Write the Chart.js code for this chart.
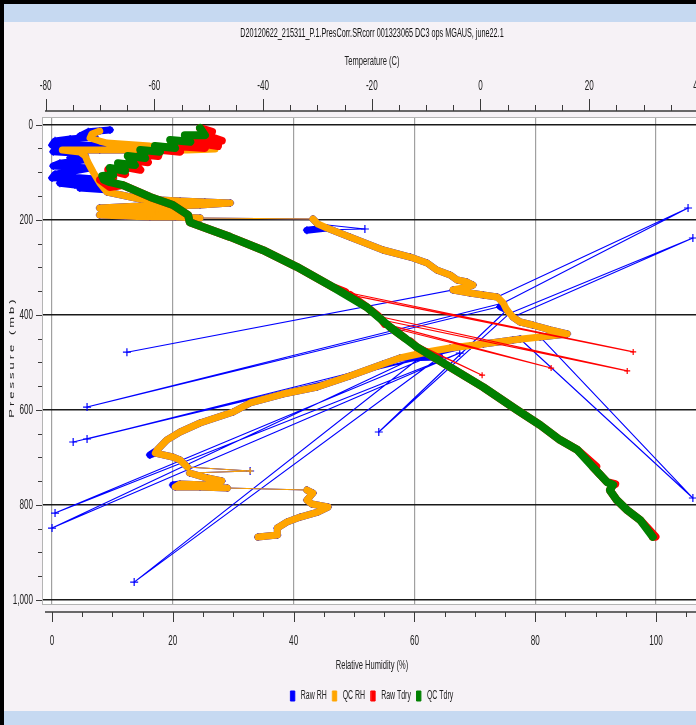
<!DOCTYPE html>
<html>
<head>
<meta charset="utf-8">
<title>Sounding profile</title>
<script src="https://cdn.jsdelivr.net/npm/chart.js@4.4.1/dist/chart.umd.min.js"></script>
<style>
  html, body { margin: 0; padding: 0; }
  body { width: 696px; height: 725px; overflow: hidden; position: relative; background: #f6f2f6; }
  #frameLeft { position: absolute; left: 0; top: 0; width: 4px; height: 725px; background: #000; z-index: 3; }
  #frameTop { position: absolute; left: 0; top: 0; width: 696px; height: 4px; background: #000; z-index: 3; }
  #bandTop { position: absolute; left: 0; top: 4px; width: 696px; height: 18px; background: #c6d9f1; z-index: 2; }
  #bandBottom { position: absolute; left: 0; top: 711px; width: 696px; height: 14px; background: #c6d9f1; z-index: 2; }
  #chart { position: absolute; left: 0; top: 22px; }
</style>
</head>
<body>
<div id="frameLeft"></div>
<div id="frameTop"></div>
<div id="bandTop"></div>
<div id="bandBottom"></div>
<canvas id="chart" width="744" height="690"></canvas>
<script>
// axis ticks
const rhTicks = [0, 20, 40, 60, 80, 100];
const tempTicks = [-80, -60, -40, -20, 0, 20, 40];
const pressureTicks = [0, 200, 400, 600, 800, 1000];

const seriesNames = ['Raw RH', 'QC RH', 'Raw Tdry', 'QC Tdry'];
const seriesColors = ['#0000ff', '#ffa500', '#ff0000', '#008000'];
const yTitle = 'Pressure (mb)';

// [relative humidity %, pressure mb]
const rawRh = [
  [7.9,13],[9.6,11],[6.0,15],[4.6,24],[7.1,26],[3.0,30],[0.5,34],[0.0,43],[3.8,41],[7.9,45],
  [12.1,46],[16.2,47],[20.6,47],[25.0,47],[20.6,51],[16.2,51],[12.1,53],[7.9,53],[1.3,53],[0.2,57],
  [4.3,60],[5.5,66],[3.0,70],[5.5,74],[1.3,81],[0.2,87],[3.0,89],[6.3,91],[3.8,97],[0.5,104],
  [0.0,112],[3.0,110],[7.1,114],[4.6,121],[1.3,123],[3.8,127],[7.9,127],[4.6,133],[8.8,137],
  [9.1,141.6],[14.6,156.3],[21.2,160.5],[25.3,162.6],[29.5,164.7],[24.5,168.9],[19.5,171.1],[14.6,171.1],
  [7.9,175.3],[14.6,179.5],[21.2,181.6],[17.1,183.7],[12.9,185.8],[7.9,190.0],[12.1,192.1],[16.2,194.2],
  [20.4,194.2],[24.5,196.3],[43.2,198.4],[44.0,208.9],[51.8,219.4],[42.2,222.0],[45.5,217.3],[49.3,236.3],
  [54.8,263.6],[59.3,278.4],[62.1,291.0],[63.7,305.7],[65.9,316.2],[67.1,326.8],[68.7,331.0],[69.7,337.3],
  [68.0,343.6],[12.4,478.6],[66.4,347.8],[69.2,354.1],[71.4,358.3],[73.7,362.5],[105.3,175.3],[74.7,375.1],
  [5.8,594.0],[74.2,382.6],[75.3,389.9],[54.1,646.5],[75.8,396.5],[106.1,238.4],[76.3,404.6],[77.5,415.1],
  [79.6,421.4],[82.5,431.9],[85.3,440.3],[80.8,446.6],[106.1,785.4],[77.5,450.9],[76.3,452.9],[71.4,461.4],
  [3.5,667.6],[69.2,465.6],[5.8,661.3],[65.9,469.8],[0.5,817.0],[67.5,480.4],[0.0,848.6],[62.1,478.2],
  [13.6,962.3],[64.2,488.8],[57.6,490.9],[54.8,503.5],[49.3,528.7],[43.9,551.9],[38.2,566.6],[32.8,585.5],
  [30.0,604.5],[24.5,627.6],[21.2,646.6],[19.0,663.4],[17.4,684.5],[16.2,694.9],[17.1,690.8],[20.0,699.2],
  [21.2,705.5],[22.4,720.2],[32.8,728.6],[22.8,732.8],[25.7,743.4],[28.1,749.7],[25.7,758.1],[21.2,756.0],
  [20.0,758.0],[20.4,762.3],[24.5,762.3],[29.0,764.4],[42.2,768.6],[43.2,775.0],[42.2,789.7],[43.0,798.1],
  [45.7,804.4],[44.0,814.9],[41.1,825.5],[38.9,836.0],[37.3,848.6],[37.3,863.3],[34.1,867.6]
];

const qcRh = [
  [7.9,13.3],[6.6,19.6],[6.3,28.0],[7.9,34.3],[9.1,38.5],[16.2,44.8],[20.4,46.9],[24.5,49.0],[27.0,51.1],
  [22.4,53.2],[17.9,53.2],[12.9,53.2],[7.9,53.2],[1.7,53.2],[4.6,57.4],[5.5,65.9],[6.0,80.6],[6.8,99.5],
  [7.9,122.7],[9.1,141.6],[14.6,156.3],[21.2,160.5],[25.3,162.6],[29.5,164.7],[24.5,168.9],[19.5,171.1],
  [14.6,171.1],[7.9,175.3],[14.6,179.5],[21.2,181.6],[17.1,183.7],[12.9,185.8],[7.9,190.0],[12.1,192.1],
  [16.2,194.2],[20.4,194.2],[24.5,196.3],[43.2,198.4],[44.0,208.9],[45.5,217.3],[49.3,236.3],[54.8,263.6],
  [59.3,278.4],[62.1,291.0],[63.7,305.7],[65.9,316.2],[67.1,326.8],[68.7,331.0],[69.7,337.3],[68.0,343.6],
  [66.4,347.8],[69.2,354.1],[71.4,358.3],[73.7,362.5],[74.7,375.1],[75.3,389.9],[76.3,404.6],[77.5,415.1],
  [79.6,421.4],[82.5,431.9],[85.3,440.3],[80.8,446.6],[76.3,452.9],[71.4,461.4],[65.9,469.8],[62.1,478.2],
  [57.6,490.9],[54.8,503.5],[49.3,528.7],[43.9,551.9],[38.2,566.6],[32.8,585.5],[30.0,604.5],[24.5,627.6],
  [21.2,646.6],[19.0,663.4],[17.4,684.5],[17.1,690.8],[20.0,699.2],[21.2,705.5],[22.4,720.2],[32.8,728.6],
  [22.8,732.8],[25.7,743.4],[28.1,749.7],[25.7,758.1],[21.2,756.0],[20.4,762.3],[24.5,762.3],[29.0,764.4],
  [42.2,768.6],[43.2,775.0],[42.2,789.7],[43.0,798.1],[45.7,804.4],[44.0,814.9],[41.1,825.5],[38.9,836.0],
  [37.3,848.6],[37.3,863.3],[34.1,867.6]
];

// [temperature C, pressure mb]
const rawTdry = [
  [-51.6,7],[-49.4,15],[-50.7,22],[-47.6,34],[-51.6,32],[-48.3,45],[-53.4,36],[-50.7,49],[-56.2,45],
  [-55.3,57],[-59.0,53],[-59.3,66],[-62.6,62],[-61.2,79],[-64.5,74],[-62.6,95],[-66.3,87],[-65.4,104],
  [-68.5,95],[-67.6,112],[-70.0,116],[-68.2,131],[-65.8,127],[-60.8,152],[-56.6,169],[-53.8,190],
  [-53.5,205],[-46.1,236],[-40.0,264],[-33.8,299],[-27.1,342],[-24.9,352],[28.1,478],[-24.0,358],
  [-20.9,384],[-18.8,403],[27.0,518],[-18.1,411],[-17.6,419],[13.0,512],[-16.6,426],[-13.9,449],
  [0.3,527],[-12.9,456],[-11.7,468],[-5.6,510],[0.5,552],[6.7,600],[11.0,632],[14.6,663],[17.8,684],
  [21.3,719],[20.7,720],[23.3,752],[24.8,756],[24.4,758],[23.8,769],[25.1,790],[27.0,811],[29.4,832],
  [32.2,867],[31.7,867]
];

const qcTdry = [
  [-51.6,7],[-50.7,22],[-54.4,22],[-53.4,36],[-57.1,32],[-56.2,49],[-59.9,45],[-59.0,57],[-62.6,53],
  [-61.7,70],[-64.9,66],[-63.6,85],[-66.7,81],[-65.4,97],[-68.2,91],[-67.6,106],[-69.6,108],[-69.3,116],
  [-68.2,121],[-65.8,127],[-60.8,152],[-56.6,169],[-53.8,190],[-53.5,205],[-46.1,236],[-40.0,264],
  [-33.8,299],[-27.1,342],[-20.9,384],[-16.6,426],[-11.7,468],[-5.6,510],[0.5,552],[6.7,600],[11.0,632],
  [14.6,663],[17.8,684],[20.7,720],[23.3,752],[24.4,758],[23.8,769],[25.1,790],[27.0,811],[29.4,832],
  [31.7,867]
];

const FONT = '"Liberation Sans", Arial, sans-serif';
Chart.defaults.font.family = FONT;
Chart.defaults.color = '#222';

// the source picture is squeezed sideways: draw all text narrower about its anchor
const SQUEEZE = 0.58;
const narrowText = {
  id: 'narrowText',
  beforeInit(chart) {
    const ctx = chart.ctx;
    const fill = ctx.fillText.bind(ctx);
    const measure = ctx.measureText.bind(ctx);
    ctx.fillText = (text, x, y, maxWidth) => {
      const m = ctx.getTransform();
      const ax = m.a * x + m.c * y + m.e;
      ctx.save();
      ctx.setTransform(SQUEEZE, 0, 0, 1, ax * (1 - SQUEEZE), 0);
      ctx.transform(m.a, m.b, m.c, m.d, m.e, m.f);
      if (maxWidth === undefined) fill(text, x, y);
      else fill(text, x, y, maxWidth / SQUEEZE);
      ctx.restore();
    };
    ctx.measureText = text => {
      const t = measure(text);
      return {
        width: t.width * SQUEEZE,
        actualBoundingBoxLeft: t.actualBoundingBoxLeft * SQUEEZE,
        actualBoundingBoxRight: t.actualBoundingBoxRight * SQUEEZE,
        actualBoundingBoxAscent: t.actualBoundingBoxAscent,
        actualBoundingBoxDescent: t.actualBoundingBoxDescent
      };
    };
  }
};

// dense runs are drawn thick, long jumps between samples thin
function segWidth(thick) {
  return ctx => Math.hypot(ctx.p1.x - ctx.p0.x, ctx.p1.y - ctx.p0.y) > 46 ? 1.1 : thick;
}

function series(i, points, axis, thick, radius) {
  return {
    label: seriesNames[i],
    data: points.map(([x, y]) => ({x, y})),
    xAxisID: axis,
    yAxisID: 'y',
    showLine: true,
    borderColor: seriesColors[i],
    backgroundColor: seriesColors[i],
    borderWidth: 1,
    borderJoinStyle: 'round',
    borderCapStyle: 'round',
    pointStyle: 'cross',
    pointRadius: radius,
    pointBorderWidth: 1.2,
    pointBorderColor: seriesColors[i],
    order: 4 - i,
    segment: { borderWidth: segWidth(thick) }
  };
}

const setTicks = list => scale => { scale.ticks = list.map(v => ({value: v})); };

// white plot area, offset axis lines with major and minor ticks, y title
const frame = {
  id: 'frame',
  beforeDraw(chart) {
    const {ctx, chartArea: a} = chart;
    ctx.save();
    ctx.fillStyle = '#ffffff';
    ctx.fillRect(a.left, a.top, a.right - a.left, a.bottom - a.top);
    ctx.restore();
  },
  afterDraw(chart) {
    const {ctx, chartArea: a} = chart;
    const {x, x2, y} = chart.scales;
    const seg = (x0, y0, x1, y1) => { ctx.beginPath(); ctx.moveTo(x0, y0); ctx.lineTo(x1, y1); ctx.stroke(); };
    ctx.save();
    ctx.strokeStyle = '#b4b4b4';
    ctx.lineWidth = 1;
    ctx.strokeRect(a.left + 0.5, a.top + 0.5, a.right - a.left - 1, a.bottom - a.top - 1);

    const yb = a.bottom + 7, yt = a.top - 6;
    ctx.strokeStyle = '#3a3a3a';
    ctx.lineWidth = 1.5;
    seg(a.left + 3, yb, a.right, yb);
    seg(a.left + 3, yt, a.right, yt);
    ctx.lineWidth = 1;
    for (let v = 0; v <= x.max; v += 5) {
      const px = Math.round(x.getPixelForValue(v)) + 0.5;
      seg(px, yb, px, yb + (v % 20 ? 5 : 10));
    }
    for (let v = -80; v <= x2.max; v += 5) {
      const px = Math.round(x2.getPixelForValue(v)) + 0.5;
      seg(px, yt, px, yt - (v % 20 ? 6 : 12));
    }
    for (let v = 0; v <= 1000; v += 50) {
      const py = Math.round(y.getPixelForValue(v)) + 0.5;
      seg(a.left - (v % 200 ? 4 : 6), py, a.left, py);
    }

    ctx.translate(12, (a.top + a.bottom) / 2 - 4);
    ctx.rotate(-Math.PI / 2);
    ctx.font = '13px ' + FONT;
    ctx.fillStyle = '#222';
    ctx.textAlign = 'center';
    ctx.textBaseline = 'middle';
    ctx.letterSpacing = '3px';
    ctx.fillText(yTitle, 0, 0);
    ctx.restore();
  }
};

new Chart(document.getElementById('chart'), {
  type: 'scatter',
  data: {
    datasets: [
      series(0, rawRh, 'x', 7, 4),
      series(1, qcRh, 'x', 7, 3),
      series(2, rawTdry, 'x2', 8, 3),
      series(3, qcTdry, 'x2', 8, 3)
    ]
  },
  options: {
    responsive: false,
    animation: false,
    events: [],
    plugins: {
      title: {
        display: true,
        text: 'D20120622_215311_P.1.PresCorr.SRcorr 001323065 DC3 ops MGAUS, june22.1',
        color: '#111',
        font: {size: 12.5, weight: 'normal'},
        padding: {top: 4.5, bottom: 0}
      },
      legend: {
        position: 'bottom',
        labels: {
          boxWidth: 4,
          boxHeight: 10,
          padding: 6,
          font: {size: 12},
          sort: (a, b) => a.datasetIndex - b.datasetIndex
        }
      },
      tooltip: {enabled: false}
    },
    scales: {
      x: {
        type: 'linear',
        position: 'bottom',
        min: -1.66,
        max: 107.61,
        afterBuildTicks: setTicks(rhTicks),
        afterFit: s => { s.height = 79; },
        grid: {color: '#a0a0a0', lineWidth: 1.2, drawTicks: false},
        border: {display: false},
        ticks: {padding: 27.6, font: {size: 14}},
        title: {display: true, text: 'Relative Humidity (%)', font: {size: 13}, padding: {top: 0, bottom: 10.7}}
      },
      x2: {
        type: 'linear',
        position: 'top',
        min: -80.68,
        max: 40.76,
        afterBuildTicks: setTicks(tempTicks),
        afterFit: s => { s.height = 75.5; },
        grid: {display: false, drawTicks: false},
        border: {display: false},
        ticks: {padding: 22.6, font: {size: 14}},
        title: {display: true, text: 'Temperature (C)', font: {size: 13}, padding: {top: 11.7, bottom: 0}}
      },
      y: {
        type: 'linear',
        position: 'left',
        reverse: true,
        min: -16.2,
        max: 1010.5,
        afterBuildTicks: setTicks(pressureTicks),
        afterFit: s => { s.width = 42; },
        grid: {color: '#1a1a1a', lineWidth: 1.5, drawTicks: false},
        border: {display: false},
        ticks: {padding: 9, font: {size: 14}, callback: v => v.toLocaleString('en-US')}
      },
      yR: {
        type: 'linear',
        position: 'right',
        grid: {display: false, drawTicks: false},
        border: {display: false},
        ticks: {display: false},
        afterFit: s => { s.width = 42; }
      }
    }
  },
  plugins: [narrowText, frame]
});
</script>
</body>
</html>
